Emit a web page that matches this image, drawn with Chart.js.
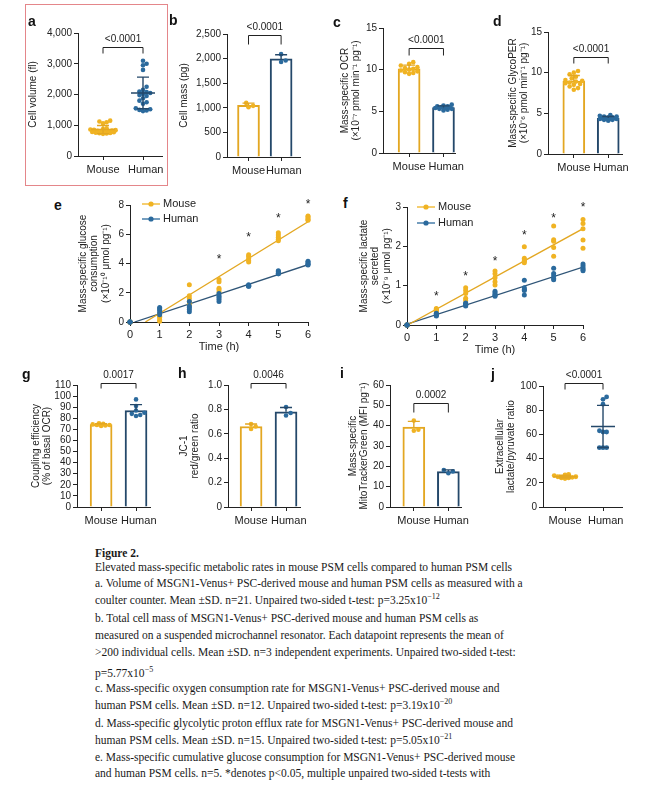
<!DOCTYPE html>
<html>
<head>
<meta charset="utf-8">
<script src="https://cdn.jsdelivr.net/npm/chart.js@4.4.1/dist/chart.umd.min.js"></script>
<style>
  body { margin: 0; width: 650px; height: 794px; background: #fff; position: relative; overflow: hidden; }
  canvas { position: absolute; }
  .letter { position: absolute; font: bold 14px "Liberation Sans", Arial, sans-serif; line-height: 14px; color: #111; z-index: 2; }
  .cap { position: absolute; left: 95px; font: 11.5px "Liberation Serif", "Times New Roman", serif; line-height: 14px; white-space: nowrap; color: #1a1a1a; }
  .cap sup { font-size: 8px; line-height: 0; vertical-align: 5px; }
  #box { position: absolute; left: 25px; top: 4px; width: 141px; height: 180px; border: 1px solid #e4868a; }
</style>
</head>
<body>
<div id="box"></div>
<div class="letter" style="left:28px;top:14px">a</div>
<div class="letter" style="left:169px;top:13px">b</div>
<div class="letter" style="left:333px;top:15px">c</div>
<div class="letter" style="left:493px;top:14px">d</div>
<div class="letter" style="left:54px;top:198px">e</div>
<div class="letter" style="left:343px;top:196px">f</div>
<div class="letter" style="left:22px;top:367px">g</div>
<div class="letter" style="left:178px;top:366px">h</div>
<div class="letter" style="left:340px;top:366px">i</div>
<div class="letter" style="left:491px;top:367px">j</div>

<div class="cap" style="top:546px;font-weight:bold">Figure 2.</div>
<div class="cap" style="top:560px">Elevated mass-specific metabolic rates in mouse PSM cells compared to human PSM cells</div>
<div class="cap" style="top:576px">a. Volume of MSGN1-Venus+ PSC-derived mouse and human PSM cells as measured with a</div>
<div class="cap" style="top:593px">coulter counter. Mean ±SD. n=21. Unpaired two-sided t-test: p=3.25x10<sup>−12</sup></div>
<div class="cap" style="top:611px">b. Total cell mass of MSGN1-Venus+ PSC-derived mouse and human PSM cells as</div>
<div class="cap" style="top:628px">measured on a suspended microchannel resonator. Each datapoint represents the mean of</div>
<div class="cap" style="top:645px">&gt;200 individual cells. Mean ±SD. n=3 independent experiments. Unpaired two-sided t-test:</div>
<div class="cap" style="top:666px">p=5.77x10<sup>−5</sup></div>
<div class="cap" style="top:681px">c. Mass-specific oxygen consumption rate for MSGN1-Venus+ PSC-derived mouse and</div>
<div class="cap" style="top:698px">human PSM cells. Mean ±SD. n=12. Unpaired two-sided t-test: p=3.19x10<sup>−20</sup></div>
<div class="cap" style="top:716px">d. Mass-specific glycolytic proton efflux rate for MSGN1-Venus+ PSC-derived mouse and</div>
<div class="cap" style="top:733px">human PSM cells. Mean ±SD. n=15. Unpaired two-sided t-test: p=5.05x10<sup>−21</sup></div>
<div class="cap" style="top:750px">e. Mass-specific cumulative glucose consumption for MSGN1-Venus+ PSC-derived mouse</div>
<div class="cap" style="top:766px">and human PSM cells. n=5. *denotes p&lt;0.05, multiple unpaired two-sided t-tests with</div>

<script>
// Groups / x tick labels
const groups = ["Mouse", "Human"];

// a - cell volume (fl)
const volumeMouse = [1150, 1120, 1100, 1060, 900, 880, 860, 850, 840, 830, 820, 810, 800, 790, 780, 770, 760, 750, 740, 730, 720];
const volumeHuman = [3100, 3000, 2950, 2800, 2250, 2150, 2100, 2080, 2050, 2020, 1980, 1950, 1880, 1800, 1750, 1700, 1550, 1520, 1500, 1480, 1460];

// b - cell mass (pg)
const massMouse = [1100, 1040, 1010];
const massHuman = [2090, 1960, 1930];

// c - mass-specific OCR
const ocrMouse = [10.9, 10.7, 10.5, 10.3, 10.2, 10.1, 10.0, 9.9, 9.8, 9.7, 9.6, 9.5];
const ocrHuman = [5.8, 5.7, 5.6, 5.6, 5.5, 5.5, 5.4, 5.4, 5.3, 5.3, 5.2, 5.1];

// d - mass-specific glycoPER
const perMouse = [10.2, 10.0, 9.8, 9.5, 9.3, 9.1, 9.0, 8.9, 8.8, 8.7, 8.6, 8.5, 8.3, 8.1, 7.9];
const perHuman = [4.8, 4.7, 4.6, 4.6, 4.5, 4.5, 4.4, 4.4, 4.4, 4.3, 4.3, 4.3, 4.2, 4.2, 4.1];

// e/f - time course
const hours = [0, 1, 2, 3, 4, 5, 6];
const glucoseMouse = [
  [0, 0, 0, 0, 0],
  [0.55, 0.4, 0.3, 0.15, 0.05],
  [2.55, 1.8, 1.6, 1.4, 1.2],
  [2.9, 2.75, 2.3, 2.2, 2.05],
  [4.6, 4.5, 4.35, 4.2, 4.1],
  [6.1, 5.95, 5.8, 5.65, 5.55],
  [7.25, 7.2, 7.1, 7.0, 6.95]
];
const glucoseHuman = [
  [0, 0, 0, 0, 0],
  [1.0, 0.9, 0.8, 0.65, 0.5],
  [1.4, 1.1, 1.0, 0.85, 0.7],
  [1.95, 1.8, 1.7, 1.55, 1.4],
  [2.55, 2.5, 2.5, 2.45, 2.45],
  [3.5, 3.45, 3.35, 3.3, 3.3],
  [4.15, 4.1, 4.0, 3.95, 3.9]
];
const glucoseStars = [null, null, null, 4.45, 5.95, 7.25, 8.2];

const lactateMouse = [
  [0, 0, 0, 0, 0],
  [0.42, 0.4, 0.38, 0.36, 0.35],
  [0.95, 0.88, 0.8, 0.68, 0.62],
  [1.37, 1.3, 1.2, 1.1, 1.02],
  [1.99, 1.7, 1.65, 1.62, 1.58],
  [2.52, 2.17, 2.13, 1.97, 1.75],
  [2.68, 2.58, 2.45, 2.16, 1.95]
];
const lactateHuman = [
  [0, 0, 0, 0, 0],
  [0.3, 0.28, 0.26, 0.25, 0.23],
  [0.56, 0.54, 0.52, 0.5, 0.48],
  [0.86, 0.82, 0.78, 0.75, 0.73],
  [1.14, 0.95, 0.9, 0.88, 0.76],
  [1.44, 1.31, 1.25, 1.18, 1.15],
  [1.55, 1.5, 1.45, 1.41, 1.38]
];
const lactateStars = [null, 0.8, 1.31, 1.69, 2.34, 2.79, 3.07];

// g - coupling efficiency
const couplingMouse = [75.5, 75, 74.5, 74, 74, 73.5, 73];
const couplingHuman = [97, 91, 87, 85, 84, 83, 82];

// h - JC-1 ratio
const jcMouse = [0.68, 0.66, 0.64];
const jcHuman = [0.82, 0.77, 0.75];

// i - MitoTracker
const mitoMouse = [42.5, 38, 37.5];
const mitoHuman = [18.2, 17.5, 16.6];

// j - lactate/pyruvate
const ratioMouse = [27, 26.5, 26, 25, 25, 24.5, 24, 24, 23.5];
const ratioHuman = [91, 89, 85, 63, 62, 62, 49, 49, 49];

const MOUSE = "#f0b323";
const MOUSE_EDGE = "#e3a722";
const HUMAN = "#2b6a9d";
const HUMAN_EDGE = "#24486a";
const INK = "#222";
const FONT = '"Liberation Sans", Arial, sans-serif';

function mean(a) { return a.reduce((s, v) => s + v, 0) / a.length; }
function sd(a) {
  const m = mean(a);
  return Math.sqrt(a.reduce((s, v) => s + (v - m) * (v - m), 0) / (a.length - 1));
}

// simple beeswarm: spread points sideways (within +/- spread px) so they overlap as little as possible
function swarm(values, center, yPx, xUnits, dotPx, spread) {
  const placed = [];
  const out = [];
  const step = dotPx / 2;
  const maxK = 2 * Math.floor(spread / step);
  values.slice().sort((a, b) => a - b).forEach(v => {
    const py = v * yPx;
    let best = 0, bestD = -1;
    for (let k = 0; k <= maxK; k++) {
      const off = (k % 2 === 1 ? 1 : -1) * Math.ceil(k / 2) * step;
      const d = placed.reduce((m, q) => Math.min(m, Math.hypot(q.x - off, q.y - py)), Infinity);
      if (d >= dotPx) { best = off; break; }
      if (d > bestD) { bestD = d; best = off; }
    }
    placed.push({ x: best, y: py });
    out.push({ x: center + best * xUnits, y: v });
  });
  return out;
}

function fitLine(rows) {
  const xs = [], ys = [];
  rows.forEach((r, i) => r.forEach(v => { xs.push(hours[i]); ys.push(v); }));
  const mx = mean(xs), my = mean(ys);
  let num = 0, den = 0;
  xs.forEach((x, i) => { num += (x - mx) * (ys[i] - my); den += (x - mx) * (x - mx); });
  const b = num / den, a = my - b * mx;
  const last = hours[hours.length - 1];
  const start = a < 0 ? -a / b : 0;
  return [{ x: start, y: a + b * start }, { x: last, y: a + b * last }];
}

const tickFont = { family: FONT, size: 10 };
const labelFont = { family: FONT, size: 11 };
const titleFont = { family: FONT, size: 10, lineHeight: 1.15 };

const panels = [
  { id: "a", kind: "dot", sets: [volumeMouse, volumeHuman], ymax: 4000, step: 1000,
    title: ["Cell volume (fl)"], area: [78, 162, 33, 156], top: 0, titleX: 33, xr: [-0.625, 1.475],
    pText: "<0.0001", bracketY: 3545, leg: 6, dot: 3.6, spread: 13, r: 2.3 },
  { id: "b", kind: "bar", sets: [massMouse, massHuman], ymax: 2500, step: 500,
    title: ["Cell mass (pg)"], area: [227, 300, 34, 157], top: 0, titleX: 183.5, xr: [-0.66, 1.58],
    pText: "<0.0001", bracketY: 2480, leg: 9, dot: 4.6, spread: 9, r: 2.3 },
  { id: "c", kind: "bar", sets: [ocrMouse, ocrHuman], ymax: 15, step: 5,
    title: ["Mass-specific OCR", "(×10⁻⁷ pmol min⁻¹ pg⁻¹)"], area: [383, 457, 28, 153], top: 0, titleX: 345, xr: [-0.76, 1.36],
    pText: "<0.0001", bracketY: 12.6, leg: 7, dot: 4.2, spread: 9, r: 2.3 },
  { id: "d", kind: "bar", sets: [perMouse, perHuman], ymax: 15, step: 5,
    title: ["Mass-specific GlycoPER", "(×10⁻⁶ pmol min⁻¹ pg⁻¹)"], area: [548, 622, 32, 154], top: 0, titleX: 513, xr: [-0.75, 1.4],
    pText: "<0.0001", bracketY: 11.9, leg: 6, dot: 4.2, spread: 9, r: 2.3 },
  { id: "g", kind: "bar", sets: [couplingMouse, couplingHuman], ymax: 110, step: 10,
    title: ["Coupling efficiency", "(% of basal OCR)"], area: [77, 150, 385, 507], top: 360, titleX: 36, xr: [-0.69, 1.4],
    pText: "0.0017", bracketY: 111.8, leg: 5, dot: 4.2, spread: 9, r: 2.3 },
  { id: "h", kind: "bar", sets: [jcMouse, jcHuman], ymax: 1, step: 0.2, fmt: v => v === 0 ? "0" : v.toFixed(1),
    title: ["JC-1", "red/green ratio"], area: [228, 300, 385, 507], top: 360, titleX: 184, xr: [-0.66, 1.4],
    pText: "0.0046", bracketY: 1.016, leg: 5, dot: 4.6, spread: 9, r: 2.3 },
  { id: "i", kind: "bar", sets: [mitoMouse, mitoHuman], ymax: 60, step: 10,
    title: ["Mass-specific", "MitoTrackerGreen (MFI pg⁻¹)"], area: [390, 462, 385, 507], top: 360, titleX: 353, xr: [-0.69, 1.37],
    pText: "0.0002", bracketY: 51.1, leg: 9, dot: 4.6, spread: 9, r: 2.3 },
  { id: "j", kind: "dot", sets: [ratioMouse, ratioHuman], ymax: 100, step: 20,
    title: ["Extracellular", "lactate/pyruvate ratio"], area: [543, 622, 386, 507], top: 360, titleX: 500, xr: [-0.58, 1.5],
    pText: "<0.0001", bracketY: 102.5, leg: 6, dot: 3.6, spread: 13, r: 2.4 }
];

const linePanels = [
  { id: "e", mouse: glucoseMouse, human: glucoseHuman, stars: glucoseStars, ymax: 8, step: 2,
    title: ["Mass-specific glucose", "consumption", "(×10⁻¹⁰ μmol pg⁻¹)"], area: [130, 308, 205, 322], top: 190, titleX: 83,
    legend: [12, -1, 15] },
  { id: "f", mouse: lactateMouse, human: lactateHuman, stars: lactateStars, ymax: 3, step: 1,
    title: ["Mass-specific lactate", "secreted", "(×10⁻⁹ μmol pg⁻¹)"], area: [407, 583, 207, 325], top: 190, titleX: 364,
    legend: [10, 0, 16] }
];

function overlay(p) {
  return {
    id: "overlay" + p.id,
    afterDatasetsDraw(chart) {
      const { ctx, chartArea, scales: { x, y } } = chart;
      ctx.save();
      ctx.font = "10px " + FONT;
      ctx.textAlign = "center";
      ctx.textBaseline = "middle";
      if (p.sets) {
        // mean / SD
        p.sets.forEach((vals, g) => {
          const m = mean(vals), s = sd(vals), cx = x.getPixelForValue(g);
          const hi = y.getPixelForValue(m + s), lo = y.getPixelForValue(m - s), mid = y.getPixelForValue(m);
          ctx.strokeStyle = g ? HUMAN_EDGE : MOUSE_EDGE;
          ctx.lineWidth = 1.4;
          ctx.beginPath();
          if (p.kind === "dot") {
            ctx.moveTo(cx, lo); ctx.lineTo(cx, hi);
            ctx.moveTo(cx - 6, lo); ctx.lineTo(cx + 6, lo);
            ctx.moveTo(cx - 12, mid); ctx.lineTo(cx + 12, mid);
          } else {
            ctx.moveTo(cx, mid); ctx.lineTo(cx, hi);
          }
          ctx.moveTo(cx - 6, hi); ctx.lineTo(cx + 6, hi);
          ctx.stroke();
        });
        // significance bracket
        const xa = x.getPixelForValue(0), xb = x.getPixelForValue(1);
        const yb = Math.round(y.getPixelForValue(p.bracketY)) + 0.5;
        ctx.strokeStyle = INK;
        ctx.lineWidth = 1;
        ctx.beginPath();
        ctx.moveTo(xa, yb + p.leg); ctx.lineTo(xa, yb); ctx.lineTo(xb, yb); ctx.lineTo(xb, yb + p.leg);
        ctx.stroke();
        ctx.fillStyle = INK;
        ctx.fillText(p.pText, (xa + xb) / 2, yb - 8);
      }
      if (p.stars) {
        ctx.fillStyle = INK;
        ctx.font = "12px " + FONT;
        p.stars.forEach((v, i) => {
          if (v === null) return;
          ctx.fillText("*", x.getPixelForValue(hours[i]), y.getPixelForValue(v) + 3);
        });
      }
      if (p.legend) {
        const lx = chartArea.left + p.legend[0], ly = chartArea.top + p.legend[1];
        ctx.font = "11px " + FONT;
        ctx.textAlign = "left";
        [[groups[0], MOUSE], [groups[1], HUMAN]].forEach(([name, c], i) => {
          const yy = ly + i * p.legend[2];
          ctx.strokeStyle = c;
          ctx.lineWidth = 1.3;
          ctx.beginPath(); ctx.moveTo(lx, yy); ctx.lineTo(lx + 18, yy); ctx.stroke();
          ctx.fillStyle = c;
          ctx.beginPath(); ctx.arc(lx + 9, yy, 2.6, 0, Math.PI * 2); ctx.fill();
          ctx.fillStyle = INK;
          ctx.fillText(name, lx + 21, yy);
        });
      }
      ctx.restore();
    }
  };
}

function makeCanvas(p, xAxisH) {
  const left = Math.round(p.titleX - 6);
  const [x0, x1, y0, y1] = p.area;
  const cv = document.createElement("canvas");
  cv.width = x1 - left + 12;
  cv.height = y1 - p.top + xAxisH;
  cv.style.left = left + "px";
  cv.style.top = p.top + "px";
  document.body.appendChild(cv);
  return { cv, left, yW: x0 - left, padTop: y0 - p.top };
}

function yScale(p, yW) {
  return {
    min: 0, max: p.ymax,
    afterFit: s => { s.width = yW; },
    border: { display: true, color: INK, width: 1 },
    grid: { drawOnChartArea: false, drawTicks: true, tickLength: 4, color: INK },
    ticks: { stepSize: p.step, autoSkip: false, padding: 2, color: INK, font: tickFont,
      callback: p.fmt || (v => v.toLocaleString("en-US")) },
    title: { display: true, text: p.title, color: INK, padding: 0, font: titleFont }
  };
}

// bar and dot panels
panels.forEach(p => {
  const xAxisH = 24;
  const { cv, yW, padTop } = makeCanvas(p, xAxisH);
  const [x0, x1, y0, y1] = p.area;
  const yPx = (y1 - y0) / p.ymax;
  const xUnits = (p.xr[1] - p.xr[0]) / (x1 - x0);
  const colors = [MOUSE, HUMAN];

  const datasets = p.sets.map((vals, g) => ({
    type: "scatter",
    data: swarm(vals, g, yPx, xUnits, p.dot, p.spread),
    backgroundColor: colors[g],
    borderWidth: 0,
    pointRadius: p.r,
    clip: false,
    order: 1
  }));
  if (p.kind === "bar") {
    datasets.push({
      type: "bar",
      data: p.sets.map((vals, g) => ({ x: g, y: mean(vals) })),
      backgroundColor: "#fff",
      borderColor: [MOUSE_EDGE, HUMAN_EDGE],
      borderWidth: 2,
      barThickness: 22,
      order: 3
    });
  }

  new Chart(cv, {
    type: p.kind === "bar" ? "bar" : "scatter",
    data: { datasets },
    options: {
      responsive: false,
      animation: false,
      layout: { autoPadding: false, padding: { top: padTop, right: 12, left: 0, bottom: 0 } },
      plugins: { legend: { display: false }, tooltip: { enabled: false } },
      scales: {
        x: {
          type: "linear", min: p.xr[0], max: p.xr[1], offset: false,
          afterFit: s => { s.height = xAxisH; },
          afterBuildTicks: s => { s.ticks = groups.map((g, i) => ({ value: i })); },
          border: { display: true, color: INK, width: 1 },
          grid: { drawOnChartArea: false, offset: false, tickLength: 4, color: INK },
          ticks: { autoSkip: false, maxRotation: 0, padding: 3, color: INK, font: labelFont,
            callback: v => (v === 1 ? "\u2002" : "") + groups[v] }
        },
        y: yScale(p, yW)
      }
    },
    plugins: [overlay(p)]
  });
});

// time-course panels
linePanels.forEach(p => {
  const xAxisH = 32;
  const { cv, yW, padTop } = makeCanvas(p, xAxisH);
  const pts = rows => rows.flatMap((r, i) => r.map(v => ({ x: hours[i], y: v })));

  new Chart(cv, {
    type: "scatter",
    data: {
      datasets: [
        { type: "scatter", data: pts(p.mouse), backgroundColor: MOUSE, borderWidth: 0, pointRadius: 2.5, clip: false, order: 1 },
        { type: "scatter", data: pts(p.human), backgroundColor: HUMAN, borderWidth: 0, pointRadius: 2.5, clip: false, order: 0 },
        { type: "line", data: fitLine(p.mouse), borderColor: MOUSE_EDGE, borderWidth: 1.3, pointRadius: 0, order: 2 },
        { type: "line", data: fitLine(p.human), borderColor: "#2f5577", borderWidth: 1.3, pointRadius: 0, order: 2 }
      ]
    },
    options: {
      responsive: false,
      animation: false,
      layout: { autoPadding: false, padding: { top: padTop, right: 12, left: 0, bottom: 0 } },
      plugins: { legend: { display: false }, tooltip: { enabled: false } },
      scales: {
        x: {
          type: "linear", min: hours[0], max: hours[hours.length - 1],
          afterFit: s => { s.height = xAxisH; },
          border: { display: true, color: INK, width: 1 },
          grid: { drawOnChartArea: false, tickLength: 4, color: INK },
          ticks: { stepSize: 1, autoSkip: false, maxRotation: 0, padding: 2, color: INK, font: labelFont },
          title: { display: true, text: "Time (h)", color: INK, padding: 0, font: labelFont }
        },
        y: yScale(p, yW)
      }
    },
    plugins: [overlay(p)]
  });
});
</script>
</body>
</html>
